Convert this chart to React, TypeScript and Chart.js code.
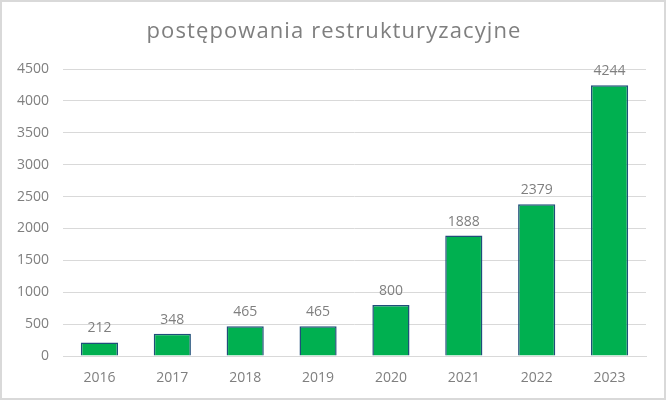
import React, { useEffect, useRef } from "react";
import { Chart, registerables } from "chart.js";

Chart.register(...registerables);

const categories: string[] = ["2016", "2017", "2018", "2019", "2020", "2021", "2022", "2023"];
const values: number[] = [212, 348, 465, 465, 800, 1888, 2379, 4244];
const yMin = 0;
const yMax = 4500;
const yStep = 500;
const titleText = "postępowania restrukturyzacyjne";

const FONT = "'Open Sans', 'Noto Sans', sans-serif";
const GREY = "#7f7f7f";

const frame = {
  id: "frame",
  beforeDraw(chart: any) {
    const { ctx, width, height } = chart;
    ctx.save();
    ctx.fillStyle = "#ffffff";
    ctx.fillRect(0, 0, width, height);
    ctx.strokeStyle = "#d9d9d9";
    ctx.lineWidth = 2;
    ctx.strokeRect(1, 1, width - 2, height - 2);
    // title with letter spacing
    ctx.fillStyle = GREY;
    ctx.font = `22px ${FONT}`;
    (ctx as any).letterSpacing = "1.1px";
    ctx.textAlign = "center";
    ctx.textBaseline = "middle";
    ctx.fillText(titleText, width / 2 + 1, 32);
    ctx.restore();
  },
};

const valueLabels = {
  id: "valueLabels",
  afterDatasetsDraw(chart: any) {
    const { ctx } = chart;
    const meta = chart.getDatasetMeta(0);
    const data = chart.data.datasets[0].data as number[];
    ctx.save();
    ctx.fillStyle = GREY;
    ctx.font = `14px ${FONT}`;
    ctx.textAlign = "center";
    ctx.textBaseline = "alphabetic";
    meta.data.forEach((bar: any, i: number) => {
      ctx.fillText(String(data[i]), bar.x, bar.y - 10);
    });
    ctx.restore();
  },
};

export default function App() {
  const ref = useRef<HTMLCanvasElement | null>(null);
  useEffect(() => {
    document.body.style.margin = "0";
    if (!ref.current) return;
    const chart = new Chart(ref.current, {
      type: "bar",
      data: {
        labels: categories,
        datasets: [
          {
            data: values,
            backgroundColor: "#00b050",
            borderColor: "#1f4e79",
            borderWidth: 1.5,
            barPercentage: 0.51,
            categoryPercentage: 1,
          },
        ],
      },
      options: {
        animation: false,
        responsive: false,
        devicePixelRatio: 1,
        layout: { padding: { left: 0, right: 20, top: 69, bottom: 0 } },
        plugins: {
          legend: { display: false },
          tooltip: { enabled: false },
          title: { display: false },
        },
        scales: {
          x: {
            grid: { display: false, drawTicks: false },
            border: { display: true, color: "#d9d9d9", width: 1 },
            ticks: { color: GREY, font: { family: FONT, size: 14 }, padding: 14 },
            afterFit: (s: any) => {
              s.height = 44;
            },
          },
          y: {
            min: yMin,
            max: yMax,
            ticks: {
              stepSize: yStep,
              color: GREY,
              font: { family: FONT, size: 14 },
              padding: 14,
              callback: (v: any) => String(v),
            },
            grid: { color: "#d9d9d9", drawTicks: false, lineWidth: 1 },
            border: { display: false },
            afterFit: (s: any) => {
              s.width = 63;
            },
          },
        },
      },
      plugins: [frame, valueLabels],
    });
    return () => chart.destroy();
  }, []);
  return (
    <div style={{ position: "absolute", left: 0, top: 0, width: 666, height: 400 }}>
      <canvas ref={ref} width={666} height={400} style={{ display: "block" }} />
    </div>
  );
}
